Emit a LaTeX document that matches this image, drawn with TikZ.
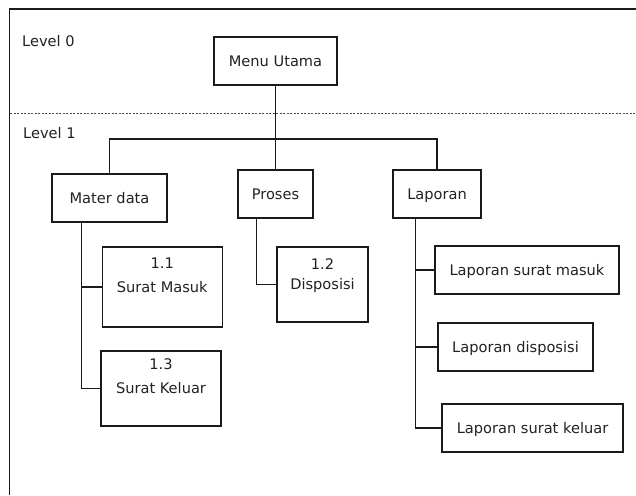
\documentclass[tikz,border=0pt]{standalone}
\usepackage{fontspec}
\setmainfont{DejaVu Sans}
\definecolor{linec}{HTML}{1A1A1A}
\definecolor{txt}{HTML}{222222}
\begin{document}
\begin{tikzpicture}[x=1pt,y=-1pt,
  lbl/.style={inner sep=0pt, text height=10.6pt, text depth=0pt,
    font=\fontsize{14.6}{17}\selectfont, text=txt},
  box/.style={lbl, draw=linec, line width=1.1pt, fill=white},
  conn/.style={draw=linec, line width=1.1pt},
  levelsep/.style={draw=linec!80, line width=0.8pt, dash pattern=on 2pt off 1.5pt}]
\useasboundingbox (0,0) rectangle (636,495);
\fill[white] (0,0) rectangle (636,495);

% outer frame (top and left edges)
\draw[linec, line width=1.6pt] (9.5,495) -- (9.5,9) -- (636,9);

% level separator
\draw[levelsep] (10,113) -- (636,113);
\node[lbl, anchor=base west] (lv0) at (22,47) {Level 0};
\node[lbl, anchor=base west] (lv1) at (23,138) {Level 1};

% level 0
\node[box, minimum width=123pt, minimum height=48pt] (mu) at (275.5,61) {Menu Utama};

% level 1
\node[box, minimum width=115pt, minimum height=48pt] (md) at (109.5,198) {Mater data};
\node[box, minimum width=75pt,  minimum height=48pt] (pr) at (275.5,194) {Proses};
\node[box, minimum width=88pt,  minimum height=48pt] (lp) at (437,194) {Laporan};

% sub menus
\node[box, minimum width=120.5pt, minimum height=80pt] (sm) at (162.3,287) {Surat Masuk};
\node[lbl] (smn) at ([yshift=24pt]sm.center) {1.1};
\node[box, minimum width=120pt, minimum height=75pt] (sk) at (161,388.5) {Surat Keluar};
\node[lbl] (skn) at ([yshift=24pt]sk.center) {1.3};
\node[box, minimum width=91pt, minimum height=75pt] (dp) at (322.5,284.5) {Disposisi};
\node[lbl] (dpn) at ([yshift=20pt]dp.center) {1.2};

\node[box, minimum width=184pt, minimum height=48pt] (lsm) at (527,270) {Laporan surat masuk};
\node[box, minimum width=155pt, minimum height=48pt] (ld)  at (515.5,347) {Laporan disposisi};
\node[box, minimum width=181pt, minimum height=48pt] (lsk) at (532.5,428) {Laporan surat keluar};

% connectors
\coordinate (bus) at (275.5,139);
\draw[conn] (mu.south) -- (pr.north);
\draw[conn] (md.north) |- (bus) -| (lp.north);

\path (md.south) ++(-27.8,0) coordinate (mdt);
\draw[conn] (mdt) |- (sk.west);
\draw[conn] (mdt |- sm.west) -- (sm.west);

\path (pr.south) ++(-18.8,0) coordinate (prt);
\draw[conn] (prt) |- (dp.west);

\path (lp.south) ++(-21.3,0) coordinate (lpt);
\draw[conn] (lpt) |- (lsk.west);
\draw[conn] (lpt |- lsm.west) -- (lsm.west);
\draw[conn] (lpt |- ld.west) -- (ld.west);
\end{tikzpicture}
\end{document}
